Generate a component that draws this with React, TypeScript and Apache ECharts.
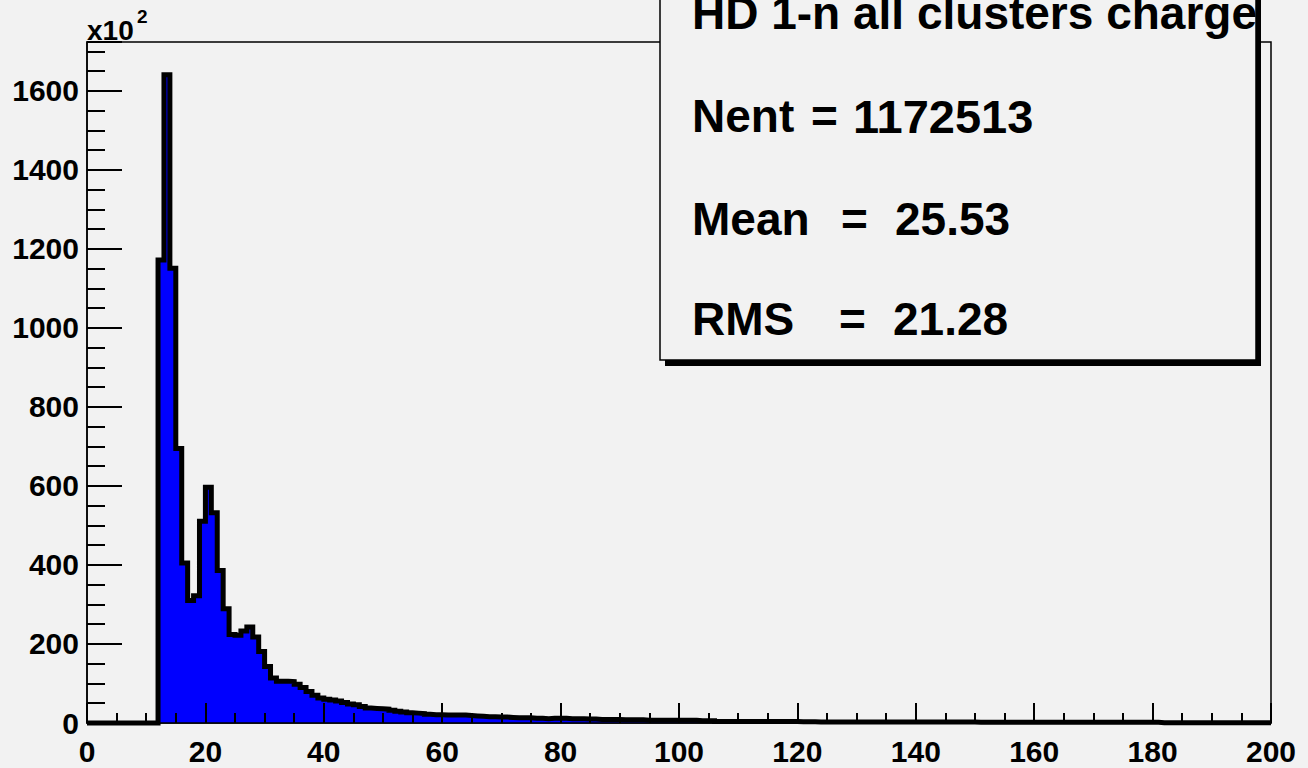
import React, { useEffect, useRef } from "react";
import * as echarts from "echarts";

// ---- data (counts in units of 10^2 per bin of width 1) ----
const xMin = 0;
const xMax = 200;
const binWidth = 1;
const yMax = 1724;
const counts: number[] = [
  0, 0, 0, 0, 0, 0, 0, 0, 0, 0, 0, 0,
  1172, 1641, 1151, 695, 405, 310, 322, 511, 597, 532, 386, 289, 224, 222, 233, 243, 218, 181, 143, 114, 106, 106, 105, 98,
  90, 80, 70, 63, 60, 58, 56, 52, 48, 46, 42, 38, 37, 36, 35, 32, 30, 28, 26, 25, 24, 22, 21, 21,
  20, 20, 20, 20, 19, 18, 17, 16, 16, 15, 15, 14, 13, 13, 13, 12, 12, 11, 12, 12,
  12, 11, 11, 11, 10, 10, 9, 9, 9, 9, 8, 8, 8, 8, 7, 7, 7, 7, 7, 7,
  7, 7, 7, 6, 6, 6, 4, 4, 4, 4, 4, 4, 4, 4, 4, 3.5, 3.5, 3.5, 3.5, 3.5,
  3, 3, 3, 2.5, 2.5, 2.5, 2.5, 2.5, 2.5, 2.5, 2.5, 2.5, 2.5, 2.5, 2.5, 2.5, 2.5, 2.5, 2.5, 2.5,
  2.5, 2.5, 2.5, 2.5, 2.5, 2.5, 2.5, 2.5, 2.5, 2.5, 2, 2, 2, 2, 2, 2, 2, 2, 2, 2,
  2, 2, 2, 2, 2, 2, 2, 2, 2, 2, 2, 2, 2, 2, 2, 2, 2, 2, 2, 2,
  2, 0.5, 0.5, 0.5, 0.5, 0.5, 0.5, 0.5, 0.5, 0.5, 0.5, 0.5, 0.5, 0.5, 0.5, 0.5, 0.5, 0.5, 0.5, 0.5,
];
const xMajorInterval = 20;
const xMinorInterval = 5;
const yMajorInterval = 200;
const yMinorInterval = 50;

const statsTitle = "HD 1-n all clusters charge";
const statsNentLabel = "Nent";
const statsNentValue = "1172513";
const statsMeanLabel = "Mean";
const statsMeanValue = "25.53";
const statsRmsLabel = "RMS";
const statsRmsValue = "21.28";
const yExponentBase = "x10";
const yExponent = "2";

const FONT = "'Liberation Sans', Arial, Helvetica, sans-serif";
const BG = "#f2f2f2";

function buildStepData(): number[][] {
  const pts: number[][] = counts.map((c, i) => [xMin + i * binWidth, c]);
  pts.push([xMax, counts[counts.length - 1]]);
  return pts;
}

function txt(text: string, x: number, y: number, size: number) {
  return {
    type: "text",
    x,
    y,
    z: 20,
    style: {
      text,
      font: `bold ${size}px ${FONT}`,
      fill: "#000",
      align: "left",
      textAlign: "left",
      verticalAlign: "middle",
      textVerticalAlign: "middle",
    },
  };
}

export default function App() {
  const ref = useRef<HTMLDivElement>(null);
  useEffect(() => {
    document.body.style.margin = "0";
    const chart = echarts.init(ref.current!, null, { renderer: "svg" });
    const tickStyle = { color: "#000", width: 2 };
    const labelStyle = {
      color: "#000",
      fontWeight: "bold" as const,
      fontSize: 30,
      fontFamily: FONT,
    };
    const option: any = {
      animation: false,
      backgroundColor: BG,
      textStyle: { fontFamily: FONT },
      grid: {
        left: 87,
        right: 37,
        top: 42,
        bottom: 45,
        show: true,
        borderColor: "#000",
        borderWidth: 1.5,
        backgroundColor: "transparent",
      },
      xAxis: [
        {
          type: "value",
          min: xMin,
          max: xMax,
          interval: xMajorInterval,
          position: "bottom",
          z: 5,
          axisLine: { show: true, onZero: false, lineStyle: { color: "#000", width: 1.5 } },
          axisTick: { show: true, inside: true, length: 20, lineStyle: tickStyle },
          axisLabel: {
            ...labelStyle,
            margin: 13,
            showMinLabel: true,
            showMaxLabel: true,
            formatter: (v: number) => String(v),
          },
          splitLine: { show: false },
        },
        {
          type: "value",
          min: xMin,
          max: xMax,
          interval: xMinorInterval,
          position: "bottom",
          z: 5,
          axisLine: { show: false },
          axisTick: { show: true, inside: true, length: 10, lineStyle: tickStyle },
          axisLabel: { show: false },
          splitLine: { show: false },
        },
      ],
      yAxis: [
        {
          type: "value",
          min: 0,
          max: yMax,
          interval: yMajorInterval,
          position: "left",
          z: 5,
          axisLine: { show: true, onZero: false, lineStyle: { color: "#000", width: 1.5 } },
          axisTick: { show: true, inside: true, length: 35, lineStyle: tickStyle },
          axisLabel: {
            ...labelStyle,
            margin: 8,
            formatter: (v: number) => (v % yMajorInterval === 0 ? String(v) : ""),
          },
          splitLine: { show: false },
        },
        {
          type: "value",
          min: 0,
          max: yMax,
          interval: yMinorInterval,
          position: "left",
          z: 5,
          axisLine: { show: false },
          axisTick: { show: true, inside: true, length: 18, lineStyle: tickStyle },
          axisLabel: { show: false },
          splitLine: { show: false },
        },
      ],
      series: [
        {
          type: "line",
          xAxisIndex: 0,
          yAxisIndex: 0,
          step: "end",
          data: buildStepData(),
          symbol: "none",
          clip: false,
          z: 2,
          lineStyle: { color: "#000", width: 5, join: "miter", cap: "butt" },
          areaStyle: { color: "#0000ff", opacity: 1 },
        },
      ],
      graphic: [
        { type: "rect", z: 15, shape: { x: 665, y: -10, width: 596, height: 376 }, style: { fill: "#000" } },
        {
          type: "rect",
          z: 16,
          shape: { x: 660, y: -15, width: 596, height: 375 },
          style: { fill: BG, stroke: "#000", lineWidth: 1.5 },
        },
        txt(statsTitle, 692, 12.5, 46),
        txt(statsNentLabel, 692, 116, 46),
        txt("=", 811, 116, 46),
        txt(statsNentValue, 853, 116, 47),
        txt(statsMeanLabel, 692, 219, 46),
        txt("=", 841, 219, 46),
        txt(statsMeanValue, 895, 219, 46),
        txt(statsRmsLabel, 692, 319, 46),
        txt("=", 839, 319, 46),
        txt(statsRmsValue, 893, 319, 46),
        txt(yExponentBase, 87, 30.5, 28),
        txt(yExponent, 137, 16.5, 19),
      ],
    };
    chart.setOption(option);
    return () => chart.dispose();
  }, []);
  return (
    <div
      ref={ref}
      style={{ position: "absolute", left: 0, top: 0, width: 1308, height: 768 }}
    />
  );
}
